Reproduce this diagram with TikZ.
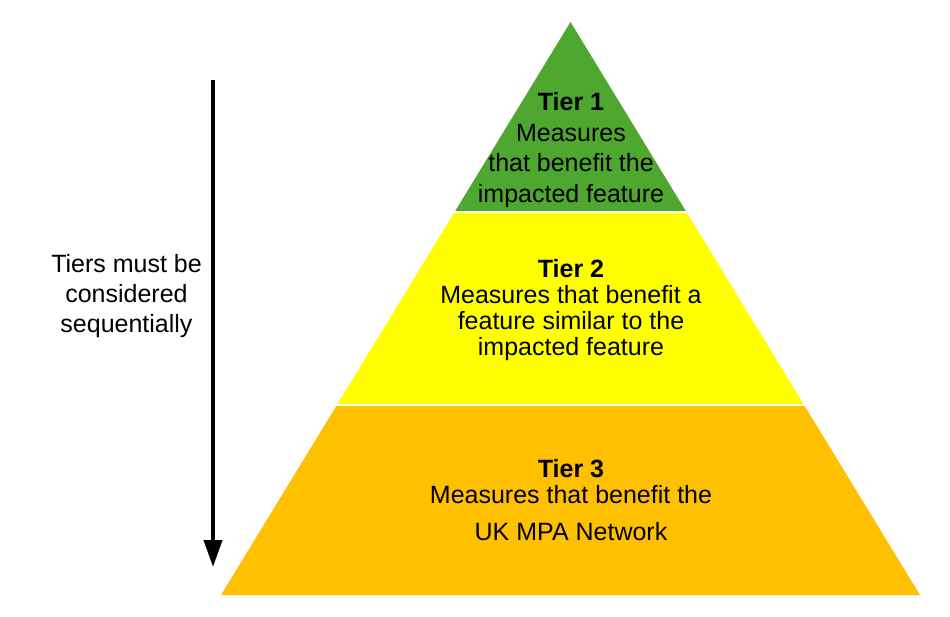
\documentclass[tikz,border=0pt]{standalone}
\usepackage{fontspec}
\setmainfont{Liberation Sans}
\usetikzlibrary{arrows.meta}
\definecolor{tiergreen}{RGB}{78,167,46}
\definecolor{tieryellow}{RGB}{255,255,0}
\definecolor{tierorange}{RGB}{255,192,0}
\begin{document}
\begin{tikzpicture}[x=1pt,y=-1pt,
  tiertext/.style={anchor=north,inner sep=0pt,align=center,font=\fontsize{25}{30}\selectfont},
  tiertextone/.style={anchor=north,inner sep=0pt,align=center,font=\fontsize{25}{30.5}\selectfont},
  tiertexttwo/.style={anchor=north,inner sep=0pt,align=center,font=\fontsize{25}{26}\selectfont},
  sepline/.style={draw=white,line width=2pt}]
\useasboundingbox[fill=white] (0,0) rectangle (950,616);
% tiers
\fill[tiergreen] (570.5,22) -- (686.4,212) -- (454.6,212) -- cycle;
\fill[tieryellow] (454.6,212) -- (686.4,212) -- (804.1,405) -- (336.9,405) -- cycle;
\fill[tierorange] (336.9,405) -- (804.1,405) -- (920,595) -- (221,595) -- cycle;
\draw[sepline] (453,212) -- (688,212);
\draw[sepline] (335,405) -- (806,405);
% texts
\node[tiertextone] (t1) at (571,92.5) {\textbf{Tier 1}\\Measures\\that benefit the\\impacted feature};
\node[tiertexttwo] (t2) at (571,259) {\textbf{Tier 2}\\Measures that benefit a\\feature similar to the\\impacted feature};
\node[tiertexttwo] (t3) at (571,459) {\textbf{Tier 3}\\Measures that benefit the\\[11pt]UK MPA Network};
\node[tiertext] (side) at (126.5,254.5) {Tiers must be\\considered\\sequentially};
% arrow
\coordinate (atop) at (213,80);
\coordinate (abot) at (213,567);
\draw[line width=4pt,-{Triangle[width=18pt,length=27pt]}] (atop) -- (abot);
\end{tikzpicture}
\end{document}
